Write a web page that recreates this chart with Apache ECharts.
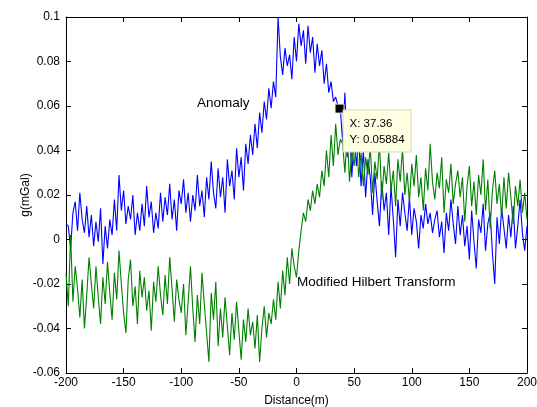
<!DOCTYPE html>
<html>
<head>
<meta charset="utf-8">
<script src="https://cdn.jsdelivr.net/npm/echarts/dist/echarts.min.js"></script>
<style>
html,body{margin:0;padding:0;background:#fff;}
#chart{width:537px;height:407px;}
</style>
</head>
<body>
<div id="chart"></div>
<script>
// sample positions (m)
var distance = [
  -200,-198,-196,-194,-192,-190,-188,-186,-184,-182,
  -180,-178,-176,-174,-172,-170,-168,-166,-164,-162,
  -160,-158,-156,-154,-152,-150,-148,-146,-144,-142,
  -140,-138,-136,-134,-132,-130,-128,-126,-124,-122,
  -120,-118,-116,-114,-112,-110,-108,-106,-104,-102,
  -100,-98,-96,-94,-92,-90,-88,-86,-84,-82,
  -80,-78,-76,-74,-72,-70,-68,-66,-64,-62,
  -60,-58,-56,-54,-52,-50,-48,-46,-44,-42,
  -40,-38,-36,-34,-32,-30,-28,-26,-24,-22,
  -20,-18,-16,-14,-12,-10,-8,-6,-4,-2,
  0,2,4,6,8,10,12,14,16,18,
  20,22,24,26,28,30,32,34,36,38,
  40,42,44,46,48,50,52,54,56,58,
  60,62,64,66,68,70,72,74,76,78,
  80,82,84,86,88,90,92,94,96,98,
  100,102,104,106,108,110,112,114,116,118,
  120,122,124,126,128,130,132,134,136,138,
  140,142,144,146,148,150,152,154,156,158,
  160,162,164,166,168,170,172,174,176,178,
  180,182,184,186,188,190,192,194,196,198,
  200
];

// blue curve
var anomaly = [
  0.007,0.006,-0.004,0.012,0.017,0.004,0.021,0.009,0.003,0.015,
  0.001,0.011,-0.003,0.008,-0.001,0.014,-0.011,0.006,-0.004,0.009,
  0.002,0.018,0.004,0.029,0.013,0.022,0.007,0.015,0.009,0.02,
  0.002,0.012,0.004,0.016,0.006,0.024,0.01,0.017,0.003,0.012,
  0.005,0.021,0.008,0.019,0.011,0.025,0.009,0.018,0.004,0.022,
  0.016,0.027,0.012,0.021,0.008,0.02,0.013,0.029,0.015,0.022,
  0.01,0.028,0.018,0.035,0.021,0.014,0.032,0.019,0.028,0.012,
  0.036,0.024,0.031,0.018,0.041,0.028,0.037,0.022,0.043,0.034,
  0.047,0.038,0.052,0.041,0.057,0.048,0.062,0.054,0.068,0.059,
  0.071,0.064,0.1,0.082,0.074,0.086,0.078,0.083,0.072,0.091,
  0.08,0.097,0.087,0.094,0.079,0.096,0.084,0.091,0.075,0.088,
  0.078,0.085,0.07,0.079,0.066,0.071,0.062,0.064,0.06,0.059,
  0.044,0.066,0.037,0.052,0.028,0.047,0.033,0.045,0.024,0.04,
  0.019,0.036,0.028,0.011,0.03,0.017,0.006,0.026,0.013,0.021,
  0.002,0.024,0.009,-0.008,0.018,0.006,0.021,0.012,0.004,0.019,
  0.002,0.014,0.008,-0.004,0.011,0.005,0.016,0.007,0.012,0.003,
  0.009,0.013,0.001,0.008,-0.006,0.012,0.004,0.018,0.007,-0.002,
  0.015,0.002,0.011,-0.003,0.006,-0.009,0.013,-0.001,-0.013,0.009,
  0.003,0.016,-0.005,0.007,0.012,-0.006,-0.02,0.01,-0.002,0.014,
  0.005,-0.004,0.011,0.001,0.015,-0.004,0.006,0.018,0.003,-0.005,
  0.006
];

// green curve
var hilbert = [
  -0.015,-0.03,0.002,-0.028,-0.012,-0.022,-0.035,-0.018,-0.04,-0.025,
  -0.008,-0.02,-0.031,-0.012,-0.026,-0.038,-0.017,-0.029,-0.01,-0.024,
  -0.036,-0.015,-0.027,-0.005,-0.02,-0.033,-0.042,-0.018,-0.009,-0.03,
  -0.021,-0.038,-0.014,-0.026,-0.017,-0.032,-0.023,-0.041,-0.019,-0.028,
  -0.012,-0.025,-0.034,-0.016,-0.029,-0.008,-0.022,-0.037,-0.018,-0.027,
  -0.033,-0.02,-0.043,-0.028,-0.012,-0.031,-0.046,-0.025,-0.038,-0.015,
  -0.029,-0.042,-0.055,-0.024,-0.036,-0.019,-0.048,-0.031,-0.044,-0.026,
  -0.039,-0.052,-0.033,-0.045,-0.028,-0.041,-0.054,-0.036,-0.046,-0.031,
  -0.043,-0.037,-0.049,-0.034,-0.055,-0.04,-0.03,-0.044,-0.033,-0.038,
  -0.027,-0.036,-0.019,-0.031,-0.014,-0.025,-0.008,-0.02,-0.004,-0.012,
  -0.017,-0.005,0.004,0.012,0.008,0.018,0.013,0.022,0.016,0.025,
  0.019,0.031,0.024,0.04,0.028,0.047,0.033,0.052,0.038,0.045,
  0.043,0.03,0.048,0.026,0.04,0.033,0.045,0.028,0.039,0.024,
  0.037,0.029,0.042,0.021,0.035,0.027,0.044,0.018,0.033,0.025,
  0.039,0.022,0.031,0.015,0.036,0.026,0.041,0.02,0.03,0.017,
  0.034,0.024,0.038,0.019,0.028,0.013,0.032,0.022,0.043,0.026,
  0.018,0.03,0.023,0.037,0.012,0.027,0.021,0.034,0.016,0.025,
  0.031,0.019,0.028,0.008,0.024,0.033,0.015,0.026,0.011,0.029,
  0.02,0.036,0.013,0.027,0.005,0.022,0.031,0.016,0.025,0.01,
  0.028,0.014,0.03,0.019,0.007,0.024,0.015,0.027,0.012,0.021,
  0.009
];

// data cursor
var tipX = 37.36;
var tipY = 0.05884;

function pairs(ys){
    var out = [];
    for(var i=0;i<distance.length;i++){
        out.push([distance[i], ys[i]]);
    }
    return out;
}

var fontName = '"Liberation Sans", Arial, sans-serif';
var axisBase = {
    axisLine:{ show:true, onZero:false, lineStyle:{ color:'#000', width:1 } },
    axisTick:{ show:true, inside:true, length:5, lineStyle:{ color:'#000' } },
    splitLine:{ show:false }
};

var chart = echarts.init(document.getElementById('chart'), null, { renderer:'canvas' });

var option = {
    animation:false,
    backgroundColor:'#fff',
    grid:{ left:66, right:10, top:17, bottom:34, containLabel:false, outerBoundsMode:'none' },
    xAxis:[
        Object.assign({}, axisBase, {
            type:'value', min:-200, max:200, interval:50, position:'bottom',
            name:'Distance(m)', nameLocation:'middle', nameGap:22, nameMoveOverlap:false,
            nameTextStyle:{ color:'#000', fontSize:12, fontFamily:fontName },
            axisLabel:{ color:'#000', fontSize:12, fontFamily:fontName, margin:4 }
        }),
        Object.assign({}, axisBase, {
            type:'value', min:-200, max:200, interval:50, position:'top',
            axisLabel:{ show:false }
        })
    ],
    yAxis:[
        Object.assign({}, axisBase, {
            type:'value', min:-0.06, max:0.1, interval:0.02, position:'left',
            name:'g(mGal)', nameLocation:'middle', nameGap:34, nameRotate:90, nameMoveOverlap:false,
            nameTextStyle:{ color:'#000', fontSize:12, fontFamily:fontName },
            axisLabel:{ color:'#000', fontSize:12, fontFamily:fontName, margin:6,
                formatter:function(v){ return String(+v.toFixed(2)); } }
        }),
        Object.assign({}, axisBase, {
            type:'value', min:-0.06, max:0.1, interval:0.02, position:'right',
            axisLabel:{ show:false }
        })
    ],
    series:[
        {
            name:'Anomaly',
            type:'line',
            data:pairs(anomaly),
            showSymbol:false,
            symbol:'none',
            lineStyle:{ color:'#0000ff', width:1.1 },
            markPoint:{
                silent:true,
                symbol:'rect',
                symbolSize:9,
                itemStyle:{ color:'#000', borderColor:'#f5f0c8', borderWidth:1 },
                data:[{ coord:[tipX, tipY] }],
                label:{
                    show:true,
                    position:[9, 7],
                    formatter:'X: ' + tipX + '\nY: ' + tipY,
                    color:'#000', fontSize:11.5, fontFamily:fontName,
                    align:'left', verticalAlign:'top',
                    lineHeight:16,
                    backgroundColor:'#ffffe1',
                    borderColor:'#d8d8b0', borderWidth:1,
                    padding:[5, 6, 4, 6]
                }
            }
        },
        {
            name:'Modified Hilbert Transform',
            type:'line',
            data:pairs(hilbert),
            showSymbol:false,
            symbol:'none',
            lineStyle:{ color:'#008000', width:1.1 }
        }
    ],
    graphic:[
        { type:'text', left:197, top:96,
          style:{ text:'Anomaly', fill:'#000', font:'13.5px ' + fontName } },
        { type:'text', left:297, top:275,
          style:{ text:'Modified Hilbert Transform', fill:'#000', font:'13.5px ' + fontName } }
    ]
};

chart.setOption(option);
</script>
</body>
</html>
